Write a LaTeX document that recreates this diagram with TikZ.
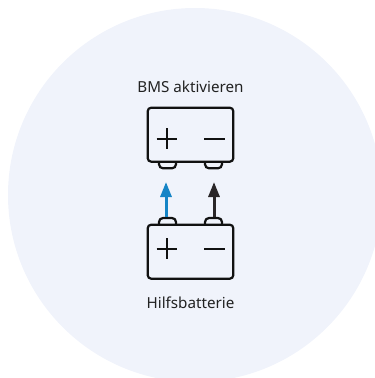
\documentclass[tikz,border=0pt]{standalone}
\usepackage{fontspec}
\setmainfont{Noto Sans}
\usepackage{xcolor}
\usetikzlibrary{arrows.meta}
\usetikzlibrary{positioning}
\definecolor{discbg}{HTML}{F0F3FB}
\definecolor{inkdark}{HTML}{111111}
\definecolor{textdark}{HTML}{222222}
\definecolor{arrowblue}{HTML}{1584C6}
\definecolor{arrowdark}{HTML}{2A2628}
\tikzset{
    battnode/.style = {rectangle, draw=inkdark, line width=2.2pt, rounded corners=3.5pt, fill=discbg, minimum width=85.6pt, minimum height=54pt, inner sep=0pt},
    polenode/.style = {rectangle, draw=inkdark, line width=2.2pt, rounded corners=4pt, fill=discbg, minimum width=17pt, minimum height=12pt, inner sep=0pt},
    textnode/.style = {align=center, inner sep=0pt, text=textdark, font=\fontsize{15.2}{17}\selectfont},
    signline/.style = {draw=inkdark, line width=2.2pt},
    feedline/.style = {-{Triangle[length=15pt,width=11pt]}, line width=3pt}
}
\begin{document}
\begin{tikzpicture}[x=1pt,y=-1pt]
    \useasboundingbox (0,0) rectangle (375,378);
    \fill [discbg] (195,195) circle (187);

    % poles sit behind the two cases
    \node [polenode] (top_plus) at (167.5,162.3) {};
    \node [polenode] (top_minus) at (213.5,162.3) {};
    \node [polenode] (low_plus) at (167.5,224) {};
    \node [polenode] (low_minus) at (213.5,224) {};

    \node [battnode] (top_batt) at (190.5,134.7) {};
    \node [battnode] (low_batt) at (190.5,251.7) {};

    \node [textnode, above=14pt of top_batt] (top_label) {BMS aktivieren};
    \node [textnode, below=16.5pt of low_batt] (low_label) {Hilfsbatterie};

    % plus and minus signs
    \foreach \name/\dy in {top/4,low/-3} {
        \draw [signline] ([xshift=-33.8pt,yshift=-\dy pt]\name_batt.center) -- ([xshift=-13.2pt,yshift=-\dy pt]\name_batt.center);
        \draw [signline] ([xshift=-23.5pt,yshift=-\dy pt+10.3pt]\name_batt.center) -- ([xshift=-23.5pt,yshift=-\dy pt-10.3pt]\name_batt.center);
        \draw [signline] ([xshift=13.8pt,yshift=-\dy pt]\name_batt.center) -- ([xshift=34.5pt,yshift=-\dy pt]\name_batt.center);
    }

    \coordinate (plus_tip) at (166,182);
    \coordinate (minus_tip) at (214,182);
    \draw [feedline, arrowblue] (low_plus.north -| plus_tip) -- (plus_tip);
    \draw [feedline, arrowdark] (low_minus.north -| minus_tip) -- (minus_tip);
\end{tikzpicture}
\end{document}
